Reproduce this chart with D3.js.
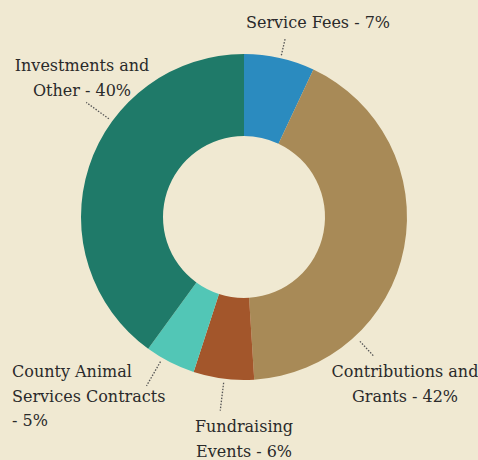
<!DOCTYPE html>
<html>
<head>
<meta charset="utf-8">
<script src="https://cdn.jsdelivr.net/npm/d3@7"></script>
<style>
  html, body { margin: 0; padding: 0; background: #f0e9d2; }
  svg { display: block; }
</style>
</head>
<body>
<div id="chart"></div>
<script>
// 資料
const categories = ["Service Fees", "Contributions and Grants", "Fundraising Events", "County Animal Services Contracts", "Investments and Other"];
const values = [7, 42, 6, 5, 40];
const colors = ["#2b8bbf", "#a88a57", "#a3562b", "#52c6b6", "#1f7a69"];
// 標籤文字 (多行)
const labelLines = [
  ["Service Fees - 7%"],
  ["Contributions and", "Grants - 42%"],
  ["Fundraising", "Events - 6%"],
  ["County Animal", "Services Contracts", "- 5%"],
  ["Investments and", "Other - 40%"]
];

const width = 478, height = 460;
const cx = 244, cy = 217;
const outerR = 163, innerR = 81;

// 標籤擺放 (角度為度數，從 12 點鐘方向順時針)
const labelLayout = [
  { ang: 13,  r0: 166, r1: 184, x: 318, y: 28, anchor: "middle" },
  { ang: 137, r0: 170, r1: 190, x: 405, y: 377, anchor: "middle" },
  { ang: 187, r0: 167, r1: 195, x: 244, y: 432, anchor: "middle" },
  { ang: 210, r0: 167, r1: 195, x: 12,  y: 377, anchor: "start" },
  { ang: 306, r0: 167, r1: 195, x: 82,  y: 71, anchor: "middle" }
];

const svg = d3.select("#chart").append("svg")
  .attr("width", width)
  .attr("height", height);

svg.append("rect").attr("width", width).attr("height", height).attr("fill", "#f0e9d2");

const g = svg.append("g").attr("transform", `translate(${cx},${cy})`);

const pie = d3.pie().sort(null).value(d => d);
const arc = d3.arc().innerRadius(innerR).outerRadius(outerR);

g.selectAll("path.slice")
  .data(pie(values))
  .join("path")
  .attr("class", "slice")
  .attr("d", arc)
  .attr("fill", (d, i) => colors[i]);

// 虛線引線
const rad = a => a * Math.PI / 180;
g.selectAll("line.leader")
  .data(labelLayout)
  .join("line")
  .attr("class", "leader")
  .attr("x1", d => d.r0 * Math.sin(rad(d.ang)))
  .attr("y1", d => -d.r0 * Math.cos(rad(d.ang)))
  .attr("x2", d => d.r1 * Math.sin(rad(d.ang)))
  .attr("y2", d => -d.r1 * Math.cos(rad(d.ang)))
  .attr("stroke", "#555")
  .attr("stroke-width", 1.3)
  .attr("stroke-dasharray", "1.5,1.5");

// 文字
const lineH = 24.5;
labelLines.forEach((lines, i) => {
  const L = labelLayout[i];
  const t = svg.append("text")
    .attr("x", L.x)
    .attr("y", L.y)
    .attr("text-anchor", L.anchor)
    .attr("font-family", "'DejaVu Serif', serif")
    .attr("font-size", "16px")
    .attr("fill", "#2a2a2a");
  lines.forEach((s, j) => {
    t.append("tspan")
      .attr("x", L.x)
      .attr("dy", j === 0 ? 0 : lineH)
      .text(s);
  });
});
</script>
</body>
</html>
